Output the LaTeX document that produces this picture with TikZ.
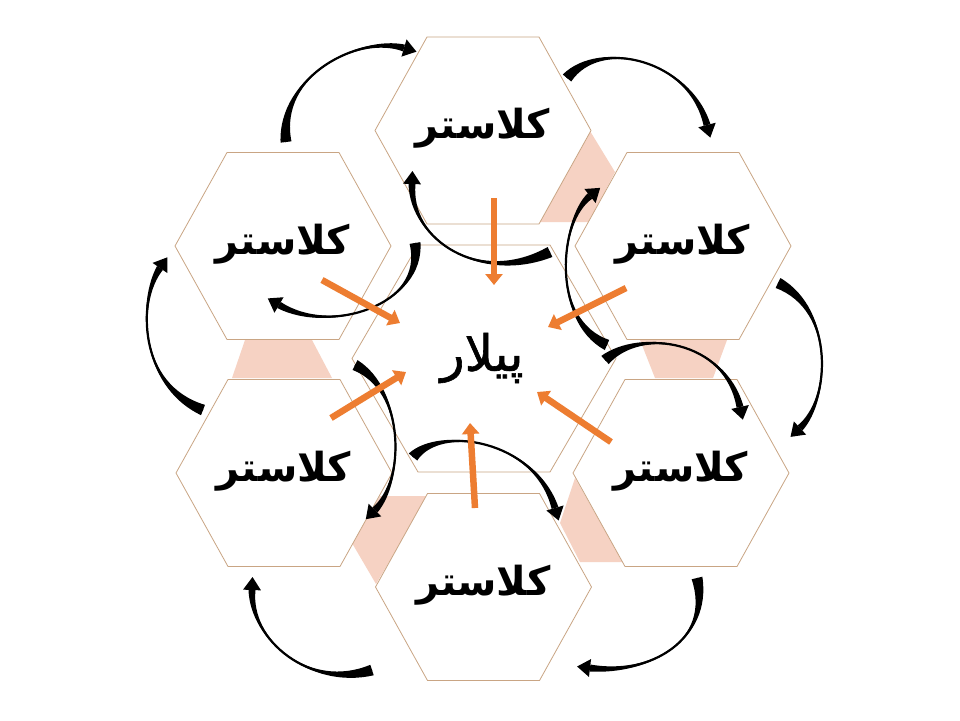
\documentclass[tikz,border=0pt]{standalone}
\usepackage{fontspec}
\newfontfamily\arabicfont[Script=Arabic]{DejaVu Sans}
\newfontfamily\arabicmid[Script=Arabic,FakeBold=1.2]{DejaVu Sans}
\TeXXeTstate=1
\usetikzlibrary{calc,arrows.meta}
\definecolor{hexline}{HTML}{C9A584}
\definecolor{pinkfill}{HTML}{F6D2C3}
\definecolor{orangeA}{HTML}{ED7D31}
% hexagon: cx, cy, half width, half top edge, half height
\newcommand{\hexat}[5]{\draw[hexa] ({#1-#3},{#2}) -- ({#1-#4},{#2-#5}) -- ({#1+#4},{#2-#5}) -- ({#1+#3},{#2}) -- ({#1+#4},{#2+#5}) -- ({#1-#4},{#2+#5}) -- cycle;}
% tapered curved arrow: tail, control 1, control 2, head base
\newcommand{\swoosh}[4]{%
  \fill[black] ($(#1)!5.5pt!90:(#2)$) .. controls (#2) and (#3) .. ($(#4)!3.5pt!-90:(#3)$) -- ($(#4)!3.5pt!90:(#3)$) .. controls (#3) and (#2) .. ($(#1)!5.5pt!-90:(#2)$) -- cycle;
  \draw[black,line width=2.2pt] (#1) .. controls (#2) and (#3) .. (#4);
  \fill[black] ($(#4)!9pt!90:(#3)$) -- ($(#4)!-13pt!(#3)$) -- ($(#4)!9pt!-90:(#3)$) -- cycle;
}
\begin{document}
\begin{tikzpicture}[x=1pt,y=-1pt,
  hexa/.style={draw=hexline,line width=0.8pt,fill=white},
  clabel/.style={font=\arabicfont\bfseries\fontsize{40}{48}\selectfont,text=black},
  plabel/.style={font=\arabicmid\fontsize{50}{60}\selectfont,text=black},
  pinkpatch/.style={fill=pinkfill},
  orangearrow/.style={draw=orangeA,line width=6.5pt,-{Triangle[length=11pt,width=17pt]}}]
\useasboundingbox[fill=white] (0,0) rectangle (960,720);

% pink patches in the gaps
\fill[pinkpatch] (590,131) -- (615,172) -- (589,222) -- (539,222) -- cycle;
\fill[pinkpatch] (640,340) -- (727,340) -- (713,378) -- (655,378) -- cycle;
\fill[pinkpatch] (575,478) -- (623,562) -- (580,562) -- (560,523) -- cycle;
\fill[pinkpatch] (380,496) -- (428,496) -- (376,584) -- (352,543) -- cycle;
\fill[pinkpatch] (245,340) -- (312,340) -- (332,378) -- (232,378) -- cycle;

% hexagons
\hexat{483}{130.5}{108}{56}{93.5}
\hexat{283}{246}{108}{56}{93.5}
\hexat{683}{246}{108}{56}{93.5}
\hexat{284}{473}{108}{56}{93.5}
\hexat{681}{473}{108}{56}{93.5}
\hexat{483.5}{587}{108}{56}{93.5}
\hexat{484}{358.5}{132}{66}{113.5}

% labels
\node[clabel] (ctop) at (483,128) {\beginR کلاستر\endR};
\node[clabel] (cul) at (283,244) {\beginR کلاستر\endR};
\node[clabel] (cur) at (683,244) {\beginR کلاستر\endR};
\node[clabel] (cll) at (284,471) {\beginR کلاستر\endR};
\node[clabel] (clr) at (681,471) {\beginR کلاستر\endR};
\node[clabel] (cbot) at (483.5,585) {\beginR کلاستر\endR};
\node[plabel] (pillar) at (482,358) {\beginR پیلار\endR};

% outer ring arrows
\coordinate (a1) at (286,142); \coordinate (a2) at (278,75); \coordinate (a3) at (360,35); \coordinate (a4) at (404,48);
\coordinate (b1) at (567,78); \coordinate (b2) at (600,38); \coordinate (b3) at (690,60); \coordinate (b4) at (707,125);
\coordinate (c1) at (778,283); \coordinate (c2) at (835,310); \coordinate (c3) at (830,400); \coordinate (c4) at (800,428);
\coordinate (d1) at (697,578); \coordinate (d2) at (712,640); \coordinate (d3) at (650,675); \coordinate (d4) at (590,668);
\coordinate (e1) at (372,670); \coordinate (e2) at (310,690); \coordinate (e3) at (250,640); \coordinate (e4) at (252,590);
\coordinate (f1) at (203,410); \coordinate (f2) at (138,385); \coordinate (f3) at (138,300); \coordinate (f4) at (160,268);
\swoosh{a1}{a2}{a3}{a4}
\swoosh{b1}{b2}{b3}{b4}
\swoosh{c1}{c2}{c3}{c4}
\swoosh{d1}{d2}{d3}{d4}
\swoosh{e1}{e2}{e3}{e4}
\swoosh{f1}{f2}{f3}{f4}

% inner arrows
\coordinate (g1) at (550,252); \coordinate (g2) at (480,285); \coordinate (g3) at (410,240); \coordinate (g4) at (412,184);
\coordinate (h1) at (607,345); \coordinate (h2) at (550,320); \coordinate (h3) at (560,220); \coordinate (h4) at (590,196);
\coordinate (i1) at (605,360); \coordinate (i2) at (640,328); \coordinate (i3) at (725,340); \coordinate (i4) at (740,407);
\coordinate (j1) at (415,243); \coordinate (j2) at (425,305); \coordinate (j3) at (330,335); \coordinate (j4) at (279,305);
\coordinate (k1) at (355,365); \coordinate (k2) at (405,390); \coordinate (k3) at (405,480); \coordinate (k4) at (375,510);
\coordinate (l1) at (413,457); \coordinate (l2) at (440,425); \coordinate (l3) at (535,440); \coordinate (l4) at (555,508);
\swoosh{g1}{g2}{g3}{g4}
\swoosh{h1}{h2}{h3}{h4}
\swoosh{i1}{i2}{i3}{i4}
\swoosh{j1}{j2}{j3}{j4}
\swoosh{k1}{k2}{k3}{k4}
\swoosh{l1}{l2}{l3}{l4}

% orange arrows toward the pillar
\coordinate (o1s) at (494,198); \coordinate (o1e) at (494,285);
\coordinate (o2s) at (322,280); \coordinate (o2e) at (400,323);
\coordinate (o3s) at (626,288); \coordinate (o3e) at (548,327);
\coordinate (o4s) at (331,418); \coordinate (o4e) at (406,372);
\coordinate (o5s) at (611,442); \coordinate (o5e) at (537,392);
\coordinate (o6s) at (475,508); \coordinate (o6e) at (470,423);
\draw[orangearrow] (o1s) -- (o1e);
\draw[orangearrow] (o2s) -- (o2e);
\draw[orangearrow] (o3s) -- (o3e);
\draw[orangearrow] (o4s) -- (o4e);
\draw[orangearrow] (o5s) -- (o5e);
\draw[orangearrow] (o6s) -- (o6e);
\end{tikzpicture}
\end{document}
